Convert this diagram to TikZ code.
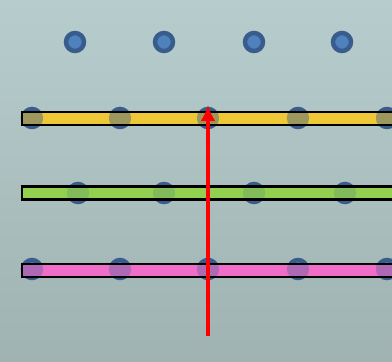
\documentclass[tikz,border=0pt]{standalone}
\usetikzlibrary{arrows.meta}
\definecolor{bgtop}{RGB}{183,205,205}
\definecolor{bgbot}{RGB}{160,178,178}
\definecolor{atomring}{RGB}{56,93,140}
\definecolor{atomcore}{RGB}{79,129,189}
\definecolor{bandyellow}{RGB}{238,200,55}
\definecolor{bandgreen}{RGB}{146,208,80}
\definecolor{bandpink}{RGB}{240,110,200}
\definecolor{beamred}{RGB}{255,0,0}
\begin{document}
\begin{tikzpicture}[x=1pt,y=-1pt,
  atom/.style={circle,draw=atomring,line width=4.5pt,fill=atomcore,
    minimum size=18pt,inner sep=0pt},
  plane/.style={rectangle,inner sep=0pt,outer sep=0pt,
    minimum height=13pt,minimum width=380pt,anchor=west},
  planeedge/.style={draw=black,line width=2.6pt},
  beam/.style={draw=beamred,line width=4pt,-{Latex[length=16pt,width=15pt]}}]
  % background
  \useasboundingbox (0,0) rectangle (392,362);
  \clip (0,0) rectangle (392,362);
  \shade[top color=bgtop,bottom color=bgbot] (0,0) rectangle (392,362);
  % lattice points
  \foreach \x [count=\i] in {75,164,254,342}
    \node[atom] (a1\i) at (\x,42) {};
  \foreach \x [count=\i] in {32,120,208,298,387}
    \node[atom] (a2\i) at (\x,118) {};
  \foreach \x [count=\i] in {78,164,254,345}
    \node[atom] (a3\i) at (\x,193) {};
  \foreach \x [count=\i] in {32,120,208,298,387}
    \node[atom] (a4\i) at (\x,269) {};
  % lattice planes, with the atoms showing faintly through them
  \node[plane,fill=bandyellow] (p1) at (22,118.5) {};
  \node[plane,fill=bandgreen] (p2) at (22,193) {};
  \node[plane,fill=bandpink] (p3) at (22,270.5) {};
  \begin{scope}
    \clip (p1.south west) rectangle (p1.north east);
    \foreach \x in {32,120,208,298,387}
      \fill[atomring,opacity=0.45] (\x,118) circle (11.2);
  \end{scope}
  \begin{scope}
    \clip (p2.south west) rectangle (p2.north east);
    \foreach \x in {78,164,254,345}
      \fill[atomring,opacity=0.18] (\x,193) circle (11.2);
  \end{scope}
  \begin{scope}
    \clip (p3.south west) rectangle (p3.north east);
    \foreach \x in {32,120,208,298,387}
      \fill[atomring,opacity=0.35] (\x,269) circle (11.2);
  \end{scope}
  \foreach \p in {p1,p2,p3}
    \draw[planeedge] (\p.south west) rectangle (\p.north east);
  % incident beam
  \coordinate (src) at (208,336);
  \coordinate (tip) at (208,105);
  \draw[beam] (src) -- (tip);
\end{tikzpicture}
\end{document}
